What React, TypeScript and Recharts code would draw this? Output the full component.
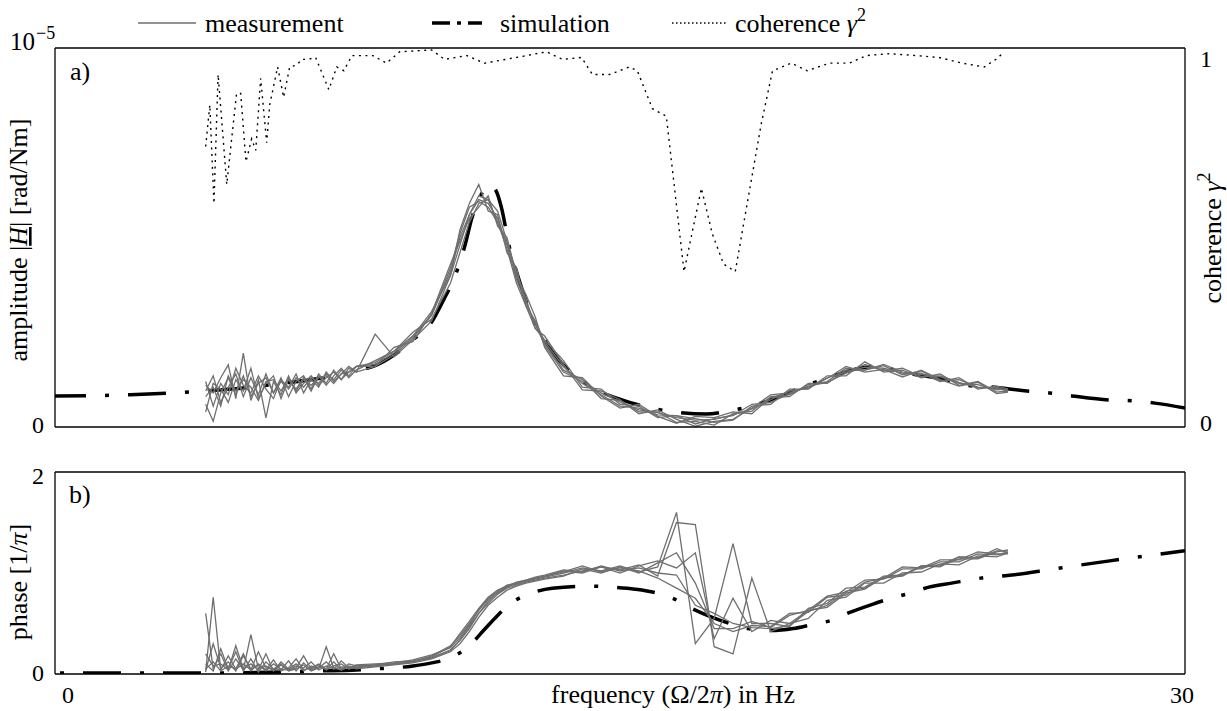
import React from "react";
import { LineChart, Line, XAxis, YAxis } from "recharts";

// ---------- data ----------
// measurement frequency grid (Hz)
const freqs = [
  4.0, 4.2, 4.4, 4.6, 4.8, 5.0, 5.2, 5.4, 5.6, 5.8, 6.0, 6.2, 6.4, 6.6, 6.8, 7.0, 7.2, 7.4, 7.6, 7.8, 8.0,
  8.5, 9.0, 9.5, 10.0, 10.5,
  10.75, 11.0, 11.25, 11.5, 11.75, 12.0, 12.25, 12.5, 12.75, 13.0,
  13.5, 14.0, 14.5, 15.0, 15.5, 16.0, 16.5, 17.0, 17.5, 18.0, 18.5, 19.0, 19.5, 20.0, 20.5, 21.0, 21.5, 22.0,
  22.5, 23.0, 23.5, 24.0, 24.5, 25.0, 25.3,
];

// amplitude of the measurement runs (1e-6 rad/Nm)
const ampRun1 = [
  0.6, 0.15, 0.9, 1.3, 0.85, 1.35, 0.8, 1.15, 1.3, 0.9, 1.2, 1.0, 1.3, 1.05, 1.3, 1.15, 1.4, 1.25, 1.5, 1.35, 1.6,
  1.7, 2.0, 2.4, 2.95, 4.1,
  5.0, 5.6, 6.0, 5.9, 5.5, 4.8, 3.9, 3.3, 2.7, 2.2,
  1.5, 1.25, 0.75, 0.7, 0.4, 0.4, 0.12, 0.15, 0.05, 0.35, 0.42, 0.8, 0.85, 1.12, 1.2, 1.55, 1.5, 1.62, 1.38, 1.48, 1.22, 1.25, 1.05, 1.02, 0.97,
];
const ampRun2 = [
  1.1, 0.9, 1.3, 1.64, 0.75, 1.95, 0.7, 1.25, 0.24, 1.2, 0.85, 1.35, 0.9, 1.15, 1.35, 1.1, 1.3, 1.45, 1.25, 1.55, 1.45,
  2.45, 1.85, 2.3, 2.8, 4.0,
  5.2, 5.9, 6.4, 5.7, 5.6, 4.6, 4.2, 3.2, 2.6, 2.3,
  1.75, 1.05, 1.0, 0.6, 0.55, 0.25, 0.3, 0.22, 0.12, 0.18, 0.55, 0.6, 1.0, 1.0, 1.35, 1.35, 1.72, 1.45, 1.5, 1.3, 1.4, 1.1, 1.2, 0.92, 0.95,
];
const ampRun3 = [
  0.95, 1.35, 0.65, 1.05, 1.4, 0.8, 1.3, 0.85, 1.4, 0.9, 1.3, 0.8, 1.2, 1.35, 1.0, 1.4, 1.15, 1.5, 1.25, 1.45, 1.6,
  1.6, 2.1, 2.25, 3.0, 4.3,
  4.9, 5.5, 5.8, 6.1, 5.3, 5.0, 4.0, 3.5, 2.9, 2.1,
  1.35, 1.3, 0.82, 0.5, 0.6, 0.28, 0.1, 0.28, 0.25, 0.4, 0.35, 0.78, 0.8, 1.15, 1.15, 1.5, 1.5, 1.65, 1.45, 1.42, 1.2, 1.3, 1.0, 1.08, 1.0,
];
const ampRun4 = [
  0.4, 1.15, 1.0, 0.65, 1.25, 0.95, 1.55, 0.75, 1.15, 1.35, 0.75, 1.25, 1.0, 1.3, 0.95, 1.35, 1.1, 1.35, 1.55, 1.3, 1.5,
  1.75, 2.0, 2.5, 2.85, 3.8,
  4.6, 5.4, 5.9, 6.0, 5.7, 4.9, 4.0, 3.4, 2.6, 2.4,
  1.65, 0.98, 0.95, 0.72, 0.35, 0.45, 0.2, 0.02, 0.15, 0.2, 0.5, 0.85, 0.9, 1.05, 1.28, 1.6, 1.45, 1.52, 1.32, 1.5, 1.25, 1.08, 1.18, 0.88, 0.92,
];
const ampRun5 = [
  1.2, 0.55, 1.15, 0.85, 1.55, 1.1, 0.9, 1.35, 1.0, 0.75, 1.25, 1.05, 1.4, 0.9, 1.25, 1.05, 1.45, 1.2, 1.4, 1.6, 1.45,
  1.6, 1.9, 2.35, 2.95, 4.2,
  5.1, 5.8, 5.95, 5.8, 5.4, 4.7, 3.8, 3.2, 2.8, 2.25,
  1.6, 1.15, 0.85, 0.55, 0.5, 0.32, 0.3, 0.08, 0.22, 0.3, 0.6, 0.65, 0.88, 1.08, 1.18, 1.42, 1.65, 1.48, 1.55, 1.33, 1.35, 1.18, 1.03, 1.05, 0.93,
];
const ampRun6 = [
  0.8, 1.05, 0.55, 1.35, 0.95, 1.25, 1.05, 0.7, 1.2, 1.25, 0.95, 1.3, 0.95, 1.25, 1.1, 1.3, 1.35, 1.15, 1.4, 1.45, 1.6,
  1.65, 1.95, 2.4, 3.05, 4.0,
  4.8, 5.6, 6.1, 6.0, 5.4, 4.85, 4.1, 3.3, 2.75, 2.15,
  1.45, 1.2, 0.9, 0.66, 0.45, 0.38, 0.25, 0.18, 0.2, 0.32, 0.48, 0.72, 0.95, 1.02, 1.3, 1.45, 1.58, 1.55, 1.42, 1.38, 1.32, 1.15, 1.12, 0.98, 1.0,
];

// phase of the measurement runs [1/pi]
const phaseRun1 = [
  0.6, 0.05, 0.2, 0.03, 0.15, 0.04, 0.39, 0.05, 0.08, 0.03, 0.12, 0.05, 0.1, 0.03, 0.08, 0.05, 0.27, 0.06, 0.04, 0.08, 0.06,
  0.08, 0.1, 0.12, 0.18, 0.28,
  0.38, 0.5, 0.63, 0.74, 0.8, 0.86, 0.9, 0.92, 0.94, 0.96,
  1.0, 1.05, 1.02, 1.07, 1.01, 1.06, 1.6, 0.3, 0.55, 1.29, 0.5, 0.5, 0.47, 0.65, 0.7, 0.85, 0.86, 0.97, 0.98, 1.07, 1.08, 1.16, 1.15, 1.24, 1.2,
];
const phaseRun2 = [
  0.02, 0.76, 0.04, 0.18, 0.05, 0.2, 0.03, 0.1, 0.04, 0.14, 0.03, 0.06, 0.15, 0.04, 0.06, 0.1, 0.05, 0.2, 0.05, 0.1, 0.08,
  0.09, 0.12, 0.13, 0.16, 0.24,
  0.33, 0.45, 0.6, 0.7, 0.79, 0.85, 0.88, 0.91, 0.93, 0.95,
  0.98, 1.02, 1.06, 1.03, 1.08, 0.97, 1.5, 1.48, 0.27, 0.2, 0.95, 0.42, 0.5, 0.55, 0.73, 0.76, 0.9, 0.9, 1.0, 1.01, 1.09, 1.08, 1.17, 1.16, 1.2,
];
const phaseRun3 = [
  0.1, 0.03, 0.25, 0.05, 0.22, 0.03, 0.15, 0.02, 0.12, 0.05, 0.04, 0.13, 0.03, 0.11, 0.04, 0.07, 0.05, 0.12, 0.04, 0.07, 0.05,
  0.07, 0.09, 0.11, 0.15, 0.22,
  0.3, 0.42, 0.56, 0.68, 0.76, 0.83, 0.87, 0.9, 0.92, 0.94,
  0.97, 1.04, 1.0, 1.06, 1.0, 1.1, 1.2, 0.9, 0.45, 0.45, 0.52, 0.46, 0.58, 0.63, 0.77, 0.81, 0.93, 0.94, 1.04, 1.04, 1.11, 1.11, 1.19, 1.18, 1.21,
];
const phaseRun4 = [
  0.04, 0.3, 0.06, 0.12, 0.03, 0.18, 0.05, 0.09, 0.03, 0.1, 0.05, 0.04, 0.08, 0.06, 0.12, 0.04, 0.08, 0.05, 0.13, 0.06, 0.09,
  0.1, 0.11, 0.14, 0.19, 0.26,
  0.36, 0.48, 0.64, 0.75, 0.82, 0.88, 0.9, 0.93, 0.95, 0.97,
  1.02, 1.0, 1.06, 1.0, 1.07, 1.12, 1.05, 1.2, 0.35, 0.75, 0.42, 0.53, 0.5, 0.63, 0.66, 0.8, 0.84, 0.96, 0.98, 1.06, 1.07, 1.14, 1.14, 1.21, 1.23,
];
const phaseRun5 = [
  0.2, 0.08, 0.1, 0.04, 0.28, 0.05, 0.1, 0.04, 0.2, 0.03, 0.09, 0.04, 0.06, 0.18, 0.05, 0.09, 0.04, 0.08, 0.1, 0.05, 0.07,
  0.08, 0.1, 0.12, 0.16, 0.23,
  0.34, 0.47, 0.6, 0.72, 0.81, 0.87, 0.89, 0.92, 0.95, 0.97,
  1.01, 1.07, 1.01, 1.05, 1.02, 0.95, 0.85, 0.75, 0.5, 0.42, 0.48, 0.47, 0.6, 0.61, 0.76, 0.78, 0.91, 0.95, 1.06, 1.05, 1.13, 1.13, 1.21, 1.19, 1.19,
];
const phaseRun6 = [
  0.05, 0.12, 0.03, 0.08, 0.05, 0.1, 0.04, 0.22, 0.06, 0.05, 0.1, 0.03, 0.05, 0.09, 0.03, 0.06, 0.12, 0.05, 0.07, 0.06, 0.08,
  0.09, 0.1, 0.13, 0.17, 0.27,
  0.4, 0.52, 0.65, 0.76, 0.83, 0.87, 0.91, 0.93, 0.96, 0.98,
  1.03, 1.01, 1.07, 1.02, 1.05, 1.0, 0.98, 0.68, 0.6, 0.5, 0.46, 0.45, 0.48, 0.62, 0.68, 0.82, 0.85, 0.95, 0.97, 1.07, 1.06, 1.16, 1.15, 1.22, 1.22,
];

// simulation amplitude (1e-6 rad/Nm)
const simAmpFreq = [
  0, 2, 4, 5, 6, 7, 8, 8.5, 9, 9.5, 10, 10.34, 10.6, 10.9, 11.06, 11.3, 11.5, 11.7, 11.85, 12.07,
  12.28, 12.8, 13.0, 13.13, 13.7, 14.2, 15.07, 15.7, 16.26, 17.3, 17.85, 18.4, 19.4, 19.9, 20.5, 21.4,
  21.8, 22.6, 23.7, 24.2, 24.8, 25.8, 26.4, 27, 28, 28.6, 29.2, 30,
];
const simAmp = [
  0.82, 0.85, 0.95, 1.03, 1.15, 1.28, 1.48, 1.62, 1.9, 2.3, 2.77, 3.4, 3.93, 4.85, 5.49, 6.1, 6.39, 6.25, 5.8, 4.72,
  4.01, 2.6, 2.3, 2.08, 1.45, 1.08, 0.71, 0.53, 0.42, 0.34, 0.42, 0.53, 0.87, 1.08, 1.29, 1.56,
  1.6, 1.42, 1.24, 1.1, 1.06, 0.95, 0.9, 0.82, 0.71, 0.69, 0.63, 0.5,
];

// simulation phase [1/pi]
const simPhaseFreq = [
  0, 2, 4, 6, 7, 8, 8.4, 9, 9.5, 10, 10.5, 11.0, 11.4, 11.75, 12.1, 12.65, 13.2, 14.2, 14.8, 15.4,
  16.0, 16.4, 16.9, 17.45, 18.0, 18.4, 19.0, 19.6, 20.1, 20.6, 21.1, 21.7, 22.2, 22.7, 23.2, 23.8,
  24.8, 25.4, 26.5, 28, 30,
];
const simPhase = [
  0.01, 0.01, 0.01, 0.02, 0.03, 0.04, 0.05, 0.06, 0.08, 0.11, 0.16, 0.28, 0.44, 0.58, 0.7, 0.8, 0.85, 0.87, 0.86, 0.84,
  0.8, 0.75, 0.65, 0.56, 0.49, 0.45, 0.43, 0.45, 0.49, 0.53, 0.61, 0.69, 0.75, 0.8, 0.86, 0.9,
  0.96, 0.98, 1.04, 1.12, 1.22,
];

// coherence gamma^2
const cohFreq = [
  4.0, 4.11, 4.22, 4.33, 4.56, 4.82, 4.93, 5.07, 5.22, 5.33, 5.46, 5.62, 5.7, 5.91, 6.07, 6.23, 6.42, 6.55, 6.71, 6.92,
  7.27, 7.48, 7.67, 7.88, 8.28, 8.44, 8.8, 9.15, 10.0, 10.34, 10.93, 11.4, 12.25, 13.05, 13.47, 13.98, 14.27, 14.72,
  15.25, 15.46, 15.86, 16.23, 16.7, 17.16, 17.45, 17.75, 18.06, 18.36, 18.75, 19.05, 19.55, 19.97, 20.56, 21.09,
  21.54, 22.15, 22.86, 23.47, 24.08, 24.67, 24.98, 25.15,
];
const coherence = [
  0.74, 0.85, 0.59, 0.93, 0.64, 0.88, 0.88, 0.7, 0.76, 0.73, 0.92, 0.75, 0.85, 0.95, 0.87, 0.95, 0.955, 0.97, 0.97, 0.975,
  0.89, 0.95, 0.94, 0.98, 0.98, 0.98, 0.96, 0.99, 0.995, 0.97, 0.98, 0.96, 0.975, 0.99, 0.97, 0.975, 0.93, 0.93,
  0.95, 0.94, 0.84, 0.82, 0.41, 0.63, 0.51, 0.43, 0.41, 0.58, 0.8, 0.94, 0.96, 0.94, 0.96, 0.96,
  0.98, 0.985, 0.98, 0.975, 0.96, 0.95, 0.97, 0.985,
];

// ticks
const xTicks = [0, 5, 10, 15, 20, 25, 30];
const ampTicks = [0, 2, 4, 6, 8, 10];
const cohTicks = [0, 0.2, 0.4, 0.6, 0.8, 1];
const phaseTicks = [0, 1, 2];

// ---------- helpers ----------
const rows = (xs: number[], ys: number[]) => xs.map((f, i) => ({ f, v: ys[i] }));
const ampSeries = [ampRun1, ampRun2, ampRun3, ampRun4, ampRun5, ampRun6].map((s) => rows(freqs, s));
const phaseSeries = [phaseRun1, phaseRun2, phaseRun3, phaseRun4, phaseRun5, phaseRun6].map((s) => rows(freqs, s));
const simAmpRows = rows(simAmpFreq, simAmp);
const simPhaseRows = rows(simPhaseFreq, simPhase);
const cohRows = rows(cohFreq, coherence);

const FONT = "'Liberation Serif', 'DejaVu Serif', 'Noto Serif', Tinos, 'Times New Roman', Times, serif";
const GRAY = "#6f6f6f";
const axisLine = { stroke: "#000", strokeWidth: 1.3 };
const tickLine = { stroke: "#000", strokeWidth: 1 };
const SIM_DASH = "38 19 4 19";
const T = { fontFamily: FONT };

export default function App() {
  return (
    <div style={{ position: "absolute", left: 0, top: 0, width: 1227, height: 711, background: "#fff", fontFamily: FONT }}>
      {/* panel a) amplitude + coherence */}
      <div style={{ position: "absolute", left: 0, top: 0 }}>
        <LineChart width={1227} height={440} margin={{ top: 48, right: 42, bottom: 13, left: 55 }}>
          <XAxis xAxisId="b" type="number" dataKey="f" domain={[0, 30]} ticks={xTicks} orientation="bottom" mirror
            tickSize={10} tick={false} axisLine={axisLine} tickLine={tickLine} allowDataOverflow />
          <XAxis xAxisId="t" type="number" dataKey="f" domain={[0, 30]} ticks={xTicks} orientation="top" mirror
            tickSize={10} tick={false} axisLine={axisLine} tickLine={tickLine} allowDataOverflow />
          <YAxis yAxisId="amp" type="number" domain={[0, 10]} ticks={ampTicks} orientation="left" mirror
            tickSize={10} tick={false} axisLine={axisLine} tickLine={tickLine} allowDataOverflow />
          <YAxis yAxisId="coh" type="number" domain={[0, 1]} ticks={cohTicks} orientation="right" mirror
            tickSize={10} tick={false} axisLine={axisLine} tickLine={tickLine} allowDataOverflow />
          <Line data={simAmpRows} dataKey="v" xAxisId="b" yAxisId="amp" type="monotone" stroke="#000"
            strokeWidth={3.5} strokeDasharray={SIM_DASH} strokeDashoffset={7} dot={false} activeDot={false}
            isAnimationActive={false} />
          {ampSeries.map((d, i) => (
            <Line key={"a" + i} data={d} dataKey="v" xAxisId="b" yAxisId="amp" type="linear" stroke={GRAY}
              strokeWidth={1.3} dot={false} activeDot={false} isAnimationActive={false} />
          ))}
          <Line data={cohRows} dataKey="v" xAxisId="b" yAxisId="coh" type="linear" stroke="#000"
            strokeWidth={1.4} strokeDasharray="2 4.5" dot={false} activeDot={false} isAnimationActive={false} />
        </LineChart>
      </div>

      {/* panel b) phase */}
      <div style={{ position: "absolute", left: 0, top: 440 }}>
        <LineChart width={1227} height={271} margin={{ top: 32, right: 42, bottom: 37, left: 55 }}>
          <XAxis xAxisId="b" type="number" dataKey="f" domain={[0, 30]} ticks={xTicks} orientation="bottom" mirror
            tickSize={10} tick={false} axisLine={axisLine} tickLine={tickLine} allowDataOverflow />
          <XAxis xAxisId="t" type="number" dataKey="f" domain={[0, 30]} ticks={xTicks} orientation="top" mirror
            tickSize={10} tick={false} axisLine={axisLine} tickLine={tickLine} allowDataOverflow />
          <YAxis yAxisId="ph" type="number" domain={[0, 2]} ticks={phaseTicks} orientation="left" mirror
            tickSize={10} tick={false} axisLine={axisLine} tickLine={tickLine} allowDataOverflow />
          <YAxis yAxisId="ph2" type="number" domain={[0, 2]} ticks={phaseTicks} orientation="right" mirror
            tickSize={10} tick={false} axisLine={axisLine} tickLine={tickLine} allowDataOverflow />
          <Line data={simPhaseRows} dataKey="v" xAxisId="b" yAxisId="ph" type="monotone" stroke="#000"
            strokeWidth={3.5} strokeDasharray={SIM_DASH} strokeDashoffset={52} dot={false} activeDot={false}
            isAnimationActive={false} />
          {phaseSeries.map((d, i) => (
            <Line key={"p" + i} data={d} dataKey="v" xAxisId="b" yAxisId="ph" type="linear" stroke={GRAY}
              strokeWidth={1.3} dot={false} activeDot={false} isAnimationActive={false} />
          ))}
        </LineChart>
      </div>

      {/* text overlay: legend, labels */}
      <svg width={1227} height={711} style={{ position: "absolute", left: 0, top: 0, pointerEvents: "none", fontFamily: FONT }}
        fill="#000">
        {/* legend */}
        <line x1={138} y1={23} x2={196} y2={23} stroke={GRAY} strokeWidth={1.6} />
        <text style={T} x={205} y={32} fontSize={26}>measurement</text>
        <line x1={432} y1={23} x2={450} y2={23} stroke="#000" strokeWidth={3.5} />
        <line x1={457} y1={23} x2={461} y2={23} stroke="#000" strokeWidth={3.5} />
        <line x1={468} y1={23} x2={482} y2={23} stroke="#000" strokeWidth={3.5} />
        <text style={T} x={500} y={32} fontSize={26}>simulation</text>
        <line x1={672} y1={23} x2={728} y2={23} stroke="#000" strokeWidth={1.3} strokeDasharray="1.5 2.5" />
        <text style={T} x={735} y={32} fontSize={26}>
          coherence <tspan fontStyle="italic">γ</tspan>
          <tspan dy={-11} fontSize={18}>2</tspan>
        </text>

        {/* panel labels */}
        <text style={T} x={70} y={80} fontSize={26}>a)</text>
        <text style={T} x={69} y={503} fontSize={26}>b)</text>

        {/* top panel y tick labels */}
        <text style={T} x={10} y={50} fontSize={25}>10</text>
        <text style={T} x={36} y={39} fontSize={18}>−5</text>
        <text style={T} x={38} y={433} fontSize={24} textAnchor="middle">0</text>
        <text style={T} x={1206} y={67} fontSize={24} textAnchor="middle">1</text>
        <text style={T} x={1206} y={431} fontSize={24} textAnchor="middle">0</text>

        {/* bottom panel tick labels */}
        <text style={T} x={38} y={484} fontSize={24} textAnchor="middle">2</text>
        <text style={T} x={38} y={681} fontSize={24} textAnchor="middle">0</text>
        <text style={T} x={68} y={703} fontSize={24} textAnchor="middle">0</text>
        <text style={T} x={1182} y={703} fontSize={24} textAnchor="middle">30</text>

        {/* axis titles */}
        <text style={T} transform="translate(27,240) rotate(-90)" fontSize={26} textAnchor="middle">
          amplitude |<tspan fontStyle="italic" textDecoration="underline">H</tspan>| [rad/Nm]
        </text>
        <text style={T} transform="translate(1221,238) rotate(-90)" fontSize={26} textAnchor="middle">
          coherence <tspan fontStyle="italic">γ</tspan>
          <tspan dy={-11} fontSize={18}>2</tspan>
        </text>
        <text style={T} transform="translate(27,582) rotate(-90)" fontSize={26} textAnchor="middle">
          phase [1/<tspan fontStyle="italic">π</tspan>]
        </text>
        <text style={T} x={673} y={703} fontSize={26} textAnchor="middle">
          frequency (Ω/2<tspan fontStyle="italic">π</tspan>) in Hz
        </text>
      </svg>
    </div>
  );
}
